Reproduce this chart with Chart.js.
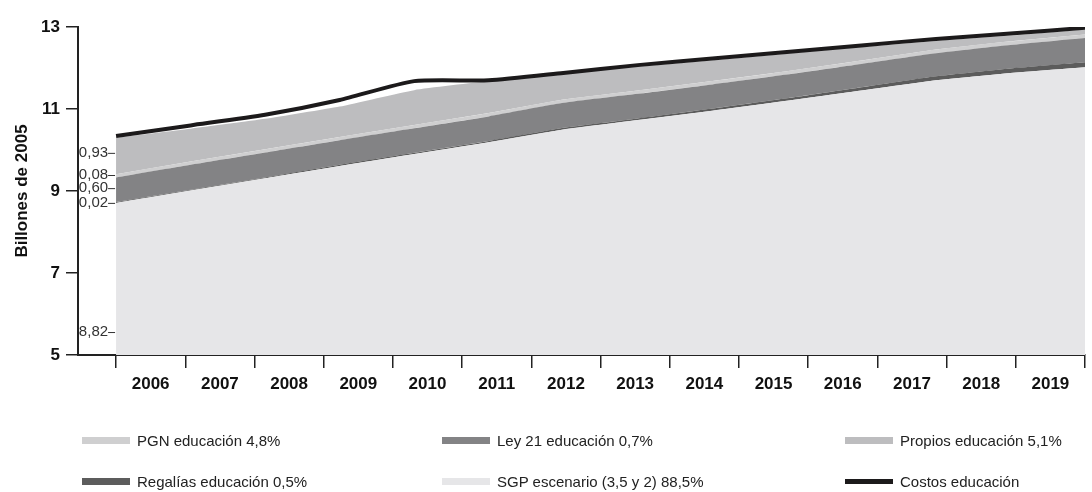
<!DOCTYPE html>
<html lang="es">
<head>
<meta charset="utf-8">
<title>Costos y fuentes de financiación de la educación</title>
<script src="https://cdn.jsdelivr.net/npm/chart.js@4.4.1/dist/chart.umd.min.js"></script>
<style>
  html, body { margin: 0; padding: 0; background: #fff; }
  body { width: 1092px; height: 492px; position: relative; overflow: hidden; font-family: 'Liberation Sans', Arial, sans-serif; }
  #wrap { position: absolute; left: 0; top: 0; width: 1092px; height: 410px; }
  #legend { position: absolute; left: 0; top: 0; width: 1092px; height: 492px; pointer-events: none; }
  .lg-item { position: absolute; display: flex; align-items: center; height: 20px; font-size: 15px; color: #222; white-space: nowrap; }
  .lg-swatch { width: 48px; height: 7px; margin-right: 7px; }
</style>
</head>
<body>
<div id="wrap"><canvas id="chart"></canvas></div>
<div id="legend"></div>
<script>
// años y valores (billones de pesos de 2005)
const years = ['2006', '2007', '2008', '2009', '2010', '2011', '2012', '2013', '2014', '2015', '2016', '2017', '2018', '2019'];
const sgp = [8.71, 9.01, 9.31, 9.61, 9.90, 10.19, 10.50, 10.73, 10.96, 11.20, 11.45, 11.70, 11.88, 12.02];
const regalias = [0.02, 0.02, 0.02, 0.03, 0.03, 0.03, 0.04, 0.04, 0.05, 0.06, 0.08, 0.10, 0.11, 0.12];
const ley21 = [0.60, 0.61, 0.61, 0.60, 0.60, 0.60, 0.61, 0.60, 0.59, 0.58, 0.57, 0.56, 0.57, 0.59];
const pgn = [0.08, 0.08, 0.08, 0.08, 0.08, 0.08, 0.08, 0.08, 0.08, 0.08, 0.08, 0.09, 0.09, 0.09];
const propios = [0.89, 0.80, 0.74, 0.74, 0.85, 0.78, 0.63, 0.58, 0.51, 0.43, 0.33, 0.21, 0.14, 0.12];
const costos = [10.34, 10.60, 10.86, 11.22, 11.68, 11.70, 11.88, 12.07, 12.23, 12.39, 12.55, 12.71, 12.84, 12.98];

const yTicks = [5, 7, 9, 11, 13];

// etiquetas de 2006 a la izquierda del área
const startLabels = ['0,93', '0,08', '0,60', '0,02', '8,82'];
const startLabelAt = [9.93, 9.39, 9.07, 8.71, 5.56];

const legendOrder = ['PGN educación 4,8%', 'Ley 21 educación 0,7%', 'Propios educación 5,1%',
  'Regalías educación 0,5%', 'SGP escenario (3,5 y 2) 88,5%', 'Costos educación'];

const FONT = "'Liberation Sans', Arial, sans-serif";
const LEFT_GAP = 0.55;               // hueco entre el eje y y el primer año, en años
const PLOT_W = 1085 - 78;
const CAT_W = PLOT_W / (years.length + LEFT_GAP);

const pts = arr => arr.map((v, i) => ({ x: i, y: v }));

function area(label, data, color) {
  return {
    label: label,
    data: pts(data),
    xAxisID: 'xd',
    backgroundColor: color,
    borderWidth: 0,
    pointRadius: 0,
    fill: 'stack',
    stack: 'fuentes',
    tension: 0.15
  };
}

const datasets = [
  Object.assign(area('SGP escenario (3,5 y 2) 88,5%', sgp, '#e6e6e8'), { fill: 'start' }),
  area('Regalías educación 0,5%', regalias, '#5c5c5c'),
  area('Ley 21 educación 0,7%', ley21, '#838385'),
  area('PGN educación 4,8%', pgn, '#cfcfd0'),
  area('Propios educación 5,1%', propios, '#bdbdbf'),
  {
    label: 'Costos educación',
    data: pts(costos),
    xAxisID: 'xd',
    stack: 'costos',
    borderColor: '#1c1a1b',
    borderWidth: 4,
    pointRadius: 0,
    fill: false,
    tension: 0.2,
    order: -1
  }
];

const startLabelPlugin = {
  id: 'startLabels',
  afterDatasetsDraw(chart) {
    const { ctx, scales } = chart;
    const x0 = scales.xd.getPixelForValue(0);
    ctx.save();
    ctx.font = '15px ' + FONT;
    ctx.fillStyle = '#333';
    ctx.strokeStyle = '#333';
    ctx.lineWidth = 1;
    ctx.textAlign = 'right';
    ctx.textBaseline = 'middle';
    startLabels.forEach((t, i) => {
      const y = scales.y.getPixelForValue(startLabelAt[i]);
      ctx.fillText(t, x0 - 8, y);
      ctx.beginPath();
      ctx.moveTo(x0 - 8, y + 0.5);
      ctx.lineTo(x0 - 1, y + 0.5);
      ctx.stroke();
    });
    ctx.restore();
  }
};

const chart = new Chart(document.getElementById('chart'), {
  type: 'line',
  data: { datasets: datasets },
  plugins: [startLabelPlugin],
  options: {
    responsive: true,
    maintainAspectRatio: false,
    animation: false,
    events: [],
    layout: { padding: { top: 27, right: 7, bottom: 10, left: 0 } },
    plugins: {
      legend: { display: false },
      tooltip: { enabled: false }
    },
    scales: {
      xd: {
        type: 'linear',
        display: false,
        min: -LEFT_GAP * (years.length - 1) / years.length,
        max: years.length - 1
      },
      x: {
        type: 'linear',
        position: 'bottom',
        min: -LEFT_GAP,
        max: years.length,
        afterBuildTicks(scale) {
          scale.ticks = years.map((_, i) => ({ value: i })).concat([{ value: years.length }]);
        },
        afterFit(scale) { scale.height = 45; },
        grid: { drawOnChartArea: false, drawTicks: true, tickLength: 13, color: '#222', lineWidth: 1.5 },
        border: { display: true, color: '#222', width: 2 },
        ticks: {
          autoSkip: false,
          maxRotation: 0,
          labelOffset: CAT_W / 2,
          padding: 6,
          color: '#111',
          font: { family: FONT, size: 17, weight: 'bold' },
          callback: v => years[v] || ''
        }
      },
      y: {
        stacked: true,
        min: 5,
        max: 13,
        afterBuildTicks(scale) { scale.ticks = yTicks.map(v => ({ value: v })); },
        afterFit(scale) { scale.width = 78; },
        grid: { drawOnChartArea: false, drawTicks: true, tickLength: 12, color: '#222', lineWidth: 1.5 },
        border: { display: true, color: '#222', width: 2 },
        ticks: {
          padding: 6,
          color: '#111',
          font: { family: FONT, size: 17, weight: 'bold' }
        },
        title: {
          display: true,
          text: 'Billones de 2005',
          color: '#111',
          padding: { top: 12, bottom: 0 },
          font: { family: FONT, size: 17, weight: 'bold' }
        }
      }
    }
  }
});

// leyenda en tres columnas, como en el original
function buildLegend() {
  const box = document.getElementById('legend');
  const colX = [82, 442, 845];
  const rowY = [430, 471];
  legendOrder.forEach((name, i) => {
    const ds = chart.data.datasets.find(d => d.label === name);
    const item = document.createElement('div');
    item.className = 'lg-item';
    item.style.left = colX[i % 3] + 'px';
    item.style.top = rowY[Math.floor(i / 3)] + 'px';
    const sw = document.createElement('span');
    sw.className = 'lg-swatch';
    if (ds.fill === false) {
      sw.style.background = ds.borderColor;
      sw.style.height = '5px';
    } else {
      sw.style.background = ds.backgroundColor;
    }
    const txt = document.createElement('span');
    txt.textContent = name;
    item.appendChild(sw);
    item.appendChild(txt);
    box.appendChild(item);
  });
}
buildLegend();
</script>
</body>
</html>
